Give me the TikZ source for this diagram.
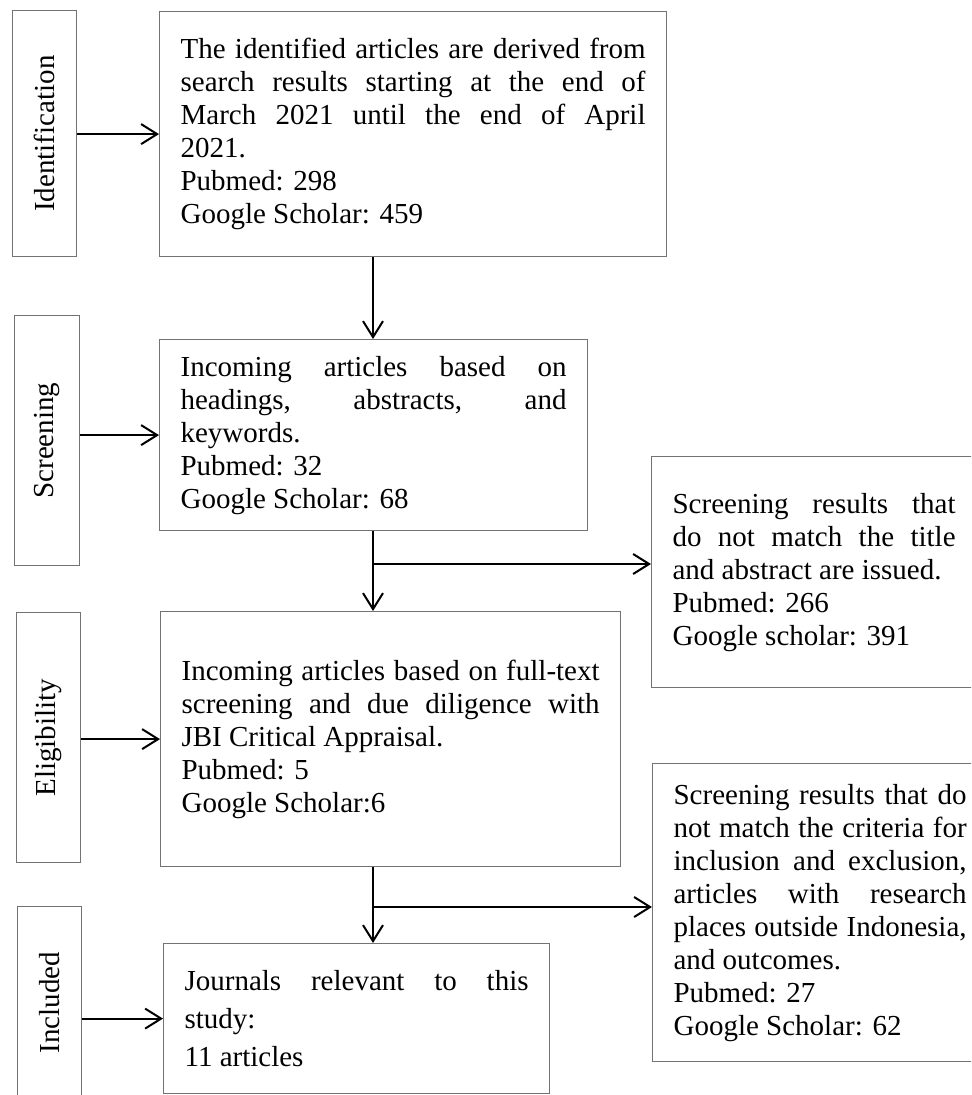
\documentclass[tikz,border=0pt]{standalone}
\usepackage{fontspec}
\setmainfont{Liberation Serif}
\usetikzlibrary{arrows.meta}

\begin{document}
\begin{tikzpicture}[x=0.5pt, y=-0.5pt,
  txt/.style={font={\fontsize{14.5}{16.5}\selectfont\hyphenpenalty=10000 \exhyphenpenalty=10000 }},
  stagebox/.style={draw=black!55, line width=0.6pt, anchor=north west, inner sep=0pt, txt},
  mainbox/.style={draw=black!55, line width=0.6pt, anchor=north west, inner xsep=10.5pt, inner ysep=0pt, align=justify, txt},
  arr/.style={-{Straight Barb[length=8pt, width=10pt]}, line width=1pt}]
\clip (0,0) rectangle (971,1095);
\fill[white] (0,0) rectangle (971,1095);

% stages
\node[stagebox, minimum width=32pt, minimum height=123pt] (ident) at (12,10) {\rotatebox{90}{Identification}};
\node[stagebox, minimum width=32.5pt, minimum height=125pt] (scr) at (14,315) {\rotatebox{90}{Screening}};
\node[stagebox, minimum width=32pt, minimum height=125pt] (elig) at (16,612) {\rotatebox{90}{Eligibility}};
\node[stagebox, minimum width=32pt, minimum height=96pt] (incl) at (17,906) {\rotatebox{90}{Included}};

% main column
\node[mainbox, text width=232.5pt, minimum height=122.5pt] (box1) at (159,11)
  {The identified articles are derived from\linebreak search results starting at the end of\linebreak March 2021 until the end of April\linebreak 2021.\\Pubmed: 298\\Google Scholar: 459};
\node[mainbox, text width=193pt, minimum height=95.5pt] (box2) at (159,339)
  {Incoming articles based on\linebreak headings, abstracts, and\linebreak keywords.\\Pubmed: 32\\Google Scholar: 68};
\node[mainbox, text width=209pt, minimum height=127.5pt] (box3) at (160,611)
  {Incoming articles based on full-text\linebreak screening and due diligence with\linebreak JBI Critical Appraisal.\\Pubmed: 5\\Google Scholar:6};
\node[mainbox, text width=172pt, minimum height=75pt, font={\fontsize{14.5}{19}\selectfont}] (box4) at (163,943)
  {Journals relevant to this\linebreak study:\\11 articles};

% excluded
\node[mainbox, text width=141.5pt, minimum height=115.5pt] (cut1) at (651,456)
  {Screening results that\linebreak do not match the title\linebreak and abstract are issued.\\Pubmed: 266\\Google scholar: 391};
\node[mainbox, text width=146.5pt, minimum height=149pt] (cut2) at (652,763)
  {Screening results that do\linebreak not match the criteria for\linebreak inclusion and exclusion,\linebreak articles with research\linebreak places outside Indonesia,\linebreak and outcomes.\\Pubmed: 27\\Google Scholar: 62};

% arrows
\draw[arr] (box1.west -| ident.east) -- (box1.west);
\draw[arr] (box2.west -| scr.east) -- (box2.west);
\draw[arr] (box3.west -| elig.east) -- (box3.west);
\draw[arr] (box4.west -| incl.east) -- (box4.west);

\coordinate (spine) at (373,0);
\draw[arr] (box1.south -| spine) -- (box2.north -| spine);
\draw[arr] (box2.south -| spine) -- (box3.north -| spine);
\draw[arr] (box3.south -| spine) -- (box4.north -| spine);
\coordinate (br1) at (373,564);
\coordinate (br2) at (373,907);
\draw[arr] (br1) -- (br1 -| cut1.west);
\draw[arr] (br2) -- (br2 -| cut2.west);
\end{tikzpicture}
\end{document}
